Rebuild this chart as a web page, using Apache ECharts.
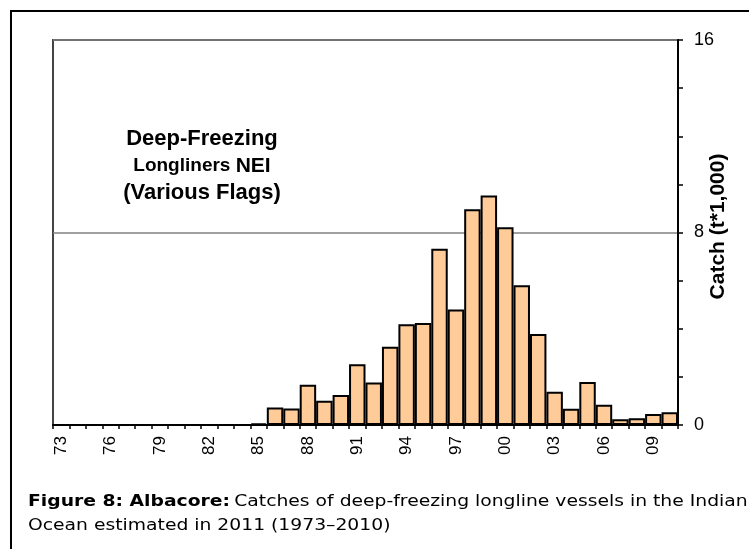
<!DOCTYPE html>
<html>
<head>
<meta charset="utf-8">
<title>Albacore - deep-freezing longliners</title>
<script src="https://cdn.jsdelivr.net/npm/echarts@6/dist/echarts.min.js"></script>
<style>
  html, body { margin: 0; padding: 0; background: #fff; }
  #chart { width: 749px; height: 549px; }
</style>
</head>
<body>
<div id="chart"></div>
<script>
// years 1973-2010, shown as two digits
const years = ['73', '74', '75', '76', '77', '78', '79', '80', '81', '82', '83', '84',
  '85', '86', '87', '88', '89', '90', '91', '92', '93', '94', '95', '96', '97', '98', '99',
  '00', '01', '02', '03', '04', '05', '06', '07', '08', '09', '10']

// catch, t*1,000
const catchValues = [0, 0, 0, 0, 0, 0, 0, 0, 0, 0, 0, 0,
  0.07, 0.73, 0.69, 1.67, 1.01, 1.25, 2.52, 1.77, 3.25, 4.19, 4.24, 7.32, 4.80, 8.97, 9.54,
  8.22, 5.81, 3.78, 1.38, 0.68, 1.79, 0.84, 0.24, 0.28, 0.46, 0.53]

const yTicks = [0, 8, 16]

const chart = echarts.init(document.getElementById('chart'))

const option = {
  animation: false,
  textStyle: { fontFamily: 'Liberation Sans, Arial, sans-serif' },
  grid: {
    left: 53,
    right: 71,
    top: 40,
    bottom: 124,
    outerBoundsMode: 'none',
    containLabel: false,
    show: true,
    borderColor: '#444',
    borderWidth: 2
  },
  graphic: [
    // outer frame of the figure
    {
      type: 'rect',
      z: -10,
      shape: { x: 11, y: 11, width: 800, height: 600 },
      style: { fill: null, stroke: '#000', lineWidth: 2 }
    },
    // label inside the plot
    {
      type: 'text',
      x: 202,
      y: 166,
      style: {
        text: '{a|Deep-Freezing}\n{b|Longliners }{c|NEI}\n{a|(Various Flags)}',
        align: 'center',
        verticalAlign: 'middle',
        rich: {
          a: { fontSize: 22, fontWeight: 'bold', fontFamily: 'Liberation Sans', lineHeight: 27, fill: '#000' },
          b: { fontSize: 19, fontWeight: 'bold', fontFamily: 'Liberation Sans', lineHeight: 27, fill: '#000' },
          c: { fontSize: 21, fontWeight: 'bold', fontFamily: 'Liberation Sans', lineHeight: 27, fill: '#000' }
        }
      }
    },
    // caption
    {
      type: 'text',
      x: 28,
      y: 490,
      scaleX: 1.25,
      style: {
        text: '{b|Figure 8: Albacore:} {n|Catches of deep-freezing longline vessels in the Indian}\n{n|Ocean estimated in 2011 (1973\u20132010)}',
        align: 'left',
        verticalAlign: 'top',
        rich: {
          b: { fontSize: 15, fontWeight: 'bold', fontFamily: 'DejaVu Sans', lineHeight: 24, fill: '#000' },
          n: { fontSize: 15, fontFamily: 'DejaVu Sans', lineHeight: 24, fill: '#000' }
        }
      }
    }
  ],
  xAxis: {
    type: 'category',
    data: years,
    axisLine: { lineStyle: { color: '#000', width: 2 } },
    axisTick: { show: true, interval: 0, length: 4, lineStyle: { color: '#000', width: 1.5 } },
    axisLabel: {
      interval: 2,
      rotate: 90,
      margin: 11,
      fontSize: 17,
      color: '#000'
    }
  },
  yAxis: {
    type: 'value',
    position: 'right',
    min: yTicks[0],
    max: yTicks[yTicks.length - 1],
    interval: 8,
    name: 'Catch (t*1,000)',
    nameLocation: 'middle',
    nameRotate: 90,
    nameGap: 30,
    nameMoveOverlap: false,
    nameTextStyle: { fontSize: 21, fontWeight: 'bold', color: '#000', padding: [0, 0, 0, 12] },
    axisLine: { show: true, lineStyle: { color: '#000', width: 2 } },
    axisTick: { show: true, length: 5, lineStyle: { color: '#000', width: 1.5 } },
    minorTick: { show: true, splitNumber: 4, length: 5, lineStyle: { color: '#000', width: 1.5 } },
    axisLabel: { margin: 16, fontSize: 18, color: '#000' },
    splitLine: { show: true, lineStyle: { color: '#808080', width: 1.5 } }
  },
  series: [
    {
      name: 'Catch',
      type: 'bar',
      data: catchValues,
      barCategoryGap: 0,
      itemStyle: { color: '#FFCC99', borderColor: '#000', borderWidth: 2 }
    }
  ]
}

chart.setOption(option)
</script>
</body>
</html>
